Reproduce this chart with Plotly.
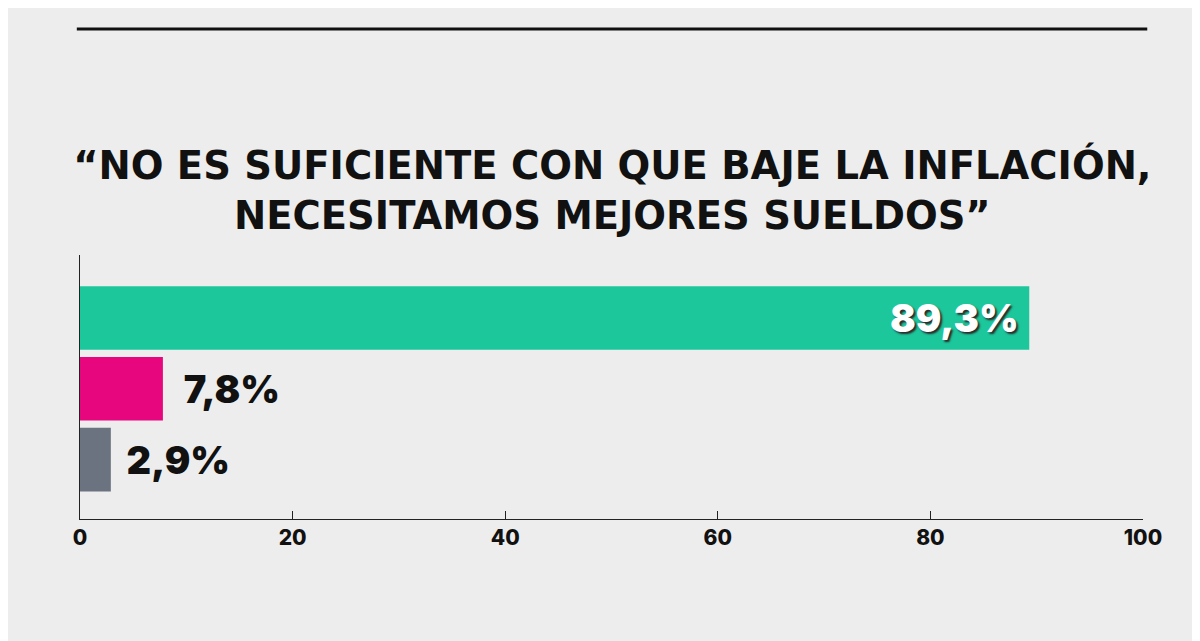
import plotly.graph_objects as go

# -- data
categories = ["De acuerdo", "En desacuerdo", "No sabe / No contesta"]
values = [89.3, 7.8, 2.9]
bar_colors = ["#1cc79b", "#e8067f", "#6b7280"]
text_positions = ["inside", "outside", "outside"]
text_templates = ["%{x:.1f}%\u00a0", "\u00a0\u00a0\u200a%{x:.1f}%", "\u00a0\u2009%{x:.1f}%"]
tick_vals = [0, 20, 40, 60, 80, 100]

title_text = "“NO ES SUFICIENTE CON QUE BAJE LA INFLACIÓN,<br>NECESITAMOS MEJORES SUELDOS”"

fig = go.Figure()
fig.add_trace(
    go.Bar(x=values, y=categories, orientation="h",
           marker_color=bar_colors, marker_line_width=0,
           texttemplate=text_templates, textposition=text_positions,
           insidetextanchor="end", cliponaxis=False,
           insidetextfont=dict(family="Inter", size=38, color="white", weight=900,
                               shadow="2px 2px 2px #2a2a2a"),
           outsidetextfont=dict(family="Inter", size=38, color="#111111", weight=900)))

# page body has an 8px margin, so the figure is 8px smaller and shifted
fig.update_layout(
    width=1192, height=633,
    separators=",.",
    paper_bgcolor="#ededed", plot_bgcolor="#ededed",
    margin=dict(l=72, r=57, t=247, b=122),
    bargap=0.1, showlegend=False,
    title=dict(text=title_text, x=0.507, xanchor="center", y=0.73, yanchor="middle",
               font=dict(family="DejaVu Sans", size=38.5, color="#111111", weight="bold")),
    shapes=[dict(type="line", xref="paper", yref="paper", x0=-0.003, x1=1.004,
                 y0=1.856, y1=1.856, line=dict(color="#111111", width=3))])

fig.update_xaxes(range=[0, 100], tickvals=tick_vals, showgrid=False, zeroline=False,
                 showline=True, linecolor="#222222", linewidth=1,
                 ticks="inside", ticklen=8, tickcolor="#222222",
                 tickfont=dict(family="Inter", size=21, color="#111111", weight=800))
fig.update_yaxes(categoryorder="array", categoryarray=categories, range=[2.84, -0.89],
                 showticklabels=False, showgrid=False, zeroline=False,
                 showline=True, linecolor="#222222", linewidth=1, ticks="")

fig.write_html("out.html")
